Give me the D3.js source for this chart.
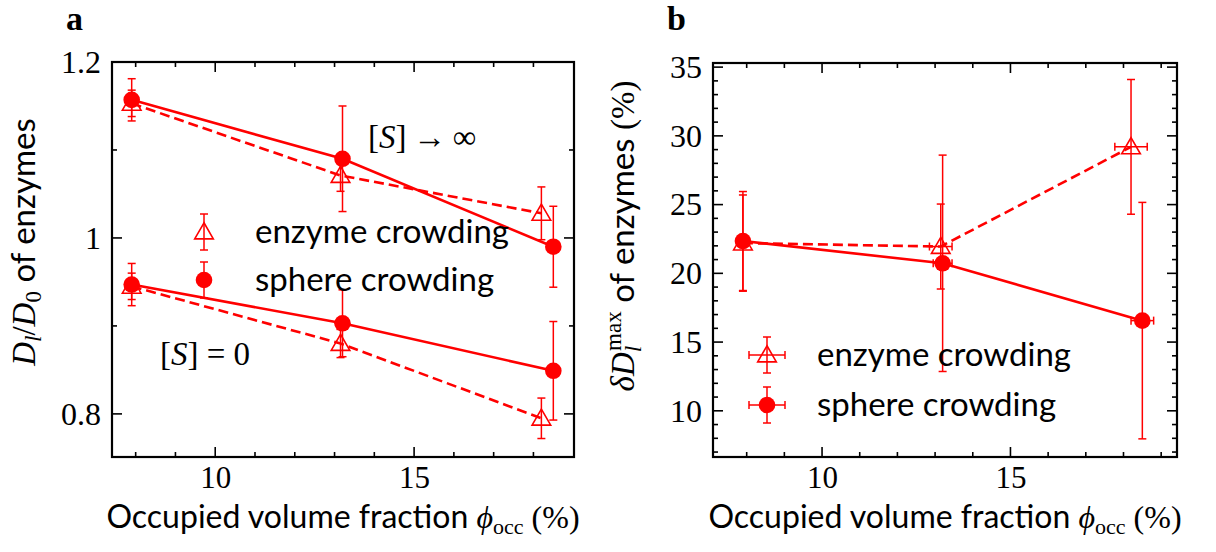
<!DOCTYPE html>
<html><head><meta charset="utf-8">
<script src="https://cdn.jsdelivr.net/npm/d3@7"></script>
<style>
body{margin:0;background:#fff;}
svg{display:block;}
.serif{font-family:"Liberation Serif","DejaVu Serif",serif;}
.sans{font-family:"Lato","DejaVu Sans",sans-serif;}
</style></head>
<body>
<svg id="chart" width="1216" height="552"></svg>
<script>
// ---------- data ----------
const phiEnzyme = [7.9, 13.15, 18.2];
const phiSphere = [7.9, 13.2, 18.5];
const phiEnzymeErr = [0.05, 0.3, 0.43];
const phiSphereErr = [0.05, 0.25, 0.3];

// panel a: D_l / D_0
const sphereS0 = [0.947, 0.903, 0.849];
const sphereS0Err = [0.024, 0.038, 0.056];
const enzymeS0 = [0.945, 0.880, 0.795];
const enzymeS0Err = [0.015, 0.016, 0.023];
const sphereSinf = [1.157, 1.090, 0.990];
const sphereSinfErr = [0.024, 0.060, 0.046];
const enzymeSinf = [1.153, 1.071, 1.028];
const enzymeSinfErr = [0.015, 0.018, 0.030];

// panel b: delta D_l^max (%)
const sphereDD = [22.35, 20.73, 16.56];
const sphereDDErr = [3.6, 7.87, 8.6];
const enzymeDD = [22.2, 21.95, 29.2];
const enzymeDDErr = [3.5, 3.09, 4.9];

const xTicksMajor = [10, 15];
const yTicksA = [0.8, 1, 1.2];
const yTickLabelsA = ["0.8", "1", "1.2"];
const yTicksB = [10, 15, 20, 25, 30, 35];

const RED = "#ff0000";
const FS = 32, FSS = 22, FT = 31;
const svg = d3.select("#chart");

function makeSeries(xs, ys, xerr, yerr){
  return xs.map((x,i)=>({x, y:ys[i], xe: xerr? xerr[i]:0, ye: yerr[i]}));
}

function drawFrame(g, x, y, w, h, xMinor, yMajor, yMinor, yFmt){
  const maj = 10, mnr = 5;
  const tk = g.append("g").attr("stroke","#000").attr("stroke-width",1.6);
  xMinor.forEach(v=>{
    const L = xTicksMajor.includes(v)? maj: mnr;
    tk.append("line").attr("x1",x(v)).attr("x2",x(v)).attr("y1",h).attr("y2",h-L);
    tk.append("line").attr("x1",x(v)).attr("x2",x(v)).attr("y1",0).attr("y2",L);
  });
  yMinor.forEach(v=>{
    const L = yMajor.some(m=>Math.abs(m-v)<1e-9)? maj: mnr;
    tk.append("line").attr("x1",0).attr("x2",L).attr("y1",y(v)).attr("y2",y(v));
    tk.append("line").attr("x1",w).attr("x2",w-L).attr("y1",y(v)).attr("y2",y(v));
  });
  g.append("rect").attr("width",w).attr("height",h).attr("fill","none").attr("stroke","#000").attr("stroke-width",2.2);
  const ax = d3.axisBottom(x).tickValues(xTicksMajor).tickSize(0).tickPadding(9).tickFormat(d3.format("d"));
  const axg = g.append("g").attr("transform",`translate(0,${h})`).call(ax);
  axg.select(".domain").remove();
  axg.selectAll("text").attr("class","serif").attr("font-size",FT).attr("fill","#000").attr("font-family",null);
  const ay = d3.axisLeft(y).tickValues(yMajor).tickSize(0).tickPadding(11).tickFormat(yFmt);
  const ayg = g.append("g").call(ay);
  ayg.select(".domain").remove();
  ayg.selectAll("text").attr("class","serif").attr("font-size",FT+1).attr("fill","#000").attr("font-family",null);
}

function drawLine(g, x, y, data, dashed){
  g.append("path").datum(data)
    .attr("d", d3.line().x(d=>x(d.x)).y(d=>y(d.y)))
    .attr("fill","none").attr("stroke",RED).attr("stroke-width",2.6)
    .attr("stroke-dasharray", dashed? "10,5": null);
}
function drawErr(g, x, y, data, horiz){
  const cap = 4;
  const e = g.append("g").attr("stroke",RED).attr("stroke-width",1.5);
  data.forEach(d=>{
    const cx = x(d.x), y1 = y(d.y+d.ye), y2 = y(d.y-d.ye);
    e.append("line").attr("x1",cx).attr("x2",cx).attr("y1",y1).attr("y2",y2);
    e.append("line").attr("x1",cx-cap).attr("x2",cx+cap).attr("y1",y1).attr("y2",y1);
    e.append("line").attr("x1",cx-cap).attr("x2",cx+cap).attr("y1",y2).attr("y2",y2);
    if(horiz && d.xe>0){
      const cy = y(d.y), x1 = x(d.x-d.xe), x2 = x(d.x+d.xe);
      e.append("line").attr("x1",x1).attr("x2",x2).attr("y1",cy).attr("y2",cy);
      e.append("line").attr("x1",x1).attr("x2",x1).attr("y1",cy-cap).attr("y2",cy+cap);
      e.append("line").attr("x1",x2).attr("x2",x2).attr("y1",cy-cap).attr("y2",cy+cap);
    }
  });
}
const triPath = d3.symbol().type(d3.symbolTriangle).size(150);
function drawTri(g, cx, cy){
  g.append("path").attr("d",triPath()).attr("transform",`translate(${cx},${cy+1.5})`)
    .attr("fill","none").attr("stroke",RED).attr("stroke-width",1.6);
}
function drawCirc(g, cx, cy){
  g.append("circle").attr("cx",cx).attr("cy",cy).attr("r",8.3).attr("fill",RED);
}
function legendEntry(g, mx, my, label, kind, horiz, tx){
  const cap=4, hv = 18, hh = 18;
  const e = g.append("g").attr("stroke",RED).attr("stroke-width",1.5);
  e.append("line").attr("x1",mx).attr("x2",mx).attr("y1",my-hv).attr("y2",my+hv);
  e.append("line").attr("x1",mx-cap).attr("x2",mx+cap).attr("y1",my-hv).attr("y2",my-hv);
  e.append("line").attr("x1",mx-cap).attr("x2",mx+cap).attr("y1",my+hv).attr("y2",my+hv);
  if(horiz){
    e.append("line").attr("x1",mx-hh).attr("x2",mx+hh).attr("y1",my).attr("y2",my);
    e.append("line").attr("x1",mx-hh).attr("x2",mx-hh).attr("y1",my-cap).attr("y2",my+cap);
    e.append("line").attr("x1",mx+hh).attr("x2",mx+hh).attr("y1",my-cap).attr("y2",my+cap);
  }
  if(kind==="tri") drawTri(g, mx, my); else drawCirc(g, mx, my);
  g.append("text").attr("class","sans").attr("x",tx).attr("y",my+11).attr("font-size",33).attr("fill","#000").text(label);
}
function xLabel(g, cx, cy){
  const t = g.append("text").attr("x",cx).attr("y",cy).attr("text-anchor","middle").attr("fill","#000").attr("font-size",FS);
  t.append("tspan").attr("class","sans").text("Occupied volume fraction ");
  t.append("tspan").attr("class","serif").attr("font-style","italic").text("ϕ");
  t.append("tspan").attr("class","serif").attr("font-size",FSS).attr("dy",6).text("occ");
  t.append("tspan").attr("class","serif").attr("dy",-6).text(" (%)");
}

// ---------- panel a ----------
const A = {left:112, top:62, w:462, h:395};
const xa = d3.scaleLinear().domain([7.405, 19.02]).range([0, A.w]);
const ya = d3.scaleLinear().domain([0.751, 1.2]).range([A.h, 0]);
const ga = svg.append("g").attr("transform",`translate(${A.left},${A.top})`);
drawFrame(ga, xa, ya, A.w, A.h, d3.range(8,19), yTicksA, [0.8,0.9,1.0,1.1,1.2], (d,i)=>yTickLabelsA[i]);

const aSets = [
  {d: makeSeries(phiEnzyme, enzymeSinf, null, enzymeSinfErr), kind:"tri"},
  {d: makeSeries(phiEnzyme, enzymeS0, null, enzymeS0Err), kind:"tri"},
  {d: makeSeries(phiSphere, sphereSinf, null, sphereSinfErr), kind:"circ"},
  {d: makeSeries(phiSphere, sphereS0, null, sphereS0Err), kind:"circ"},
];
aSets.forEach(s=>drawLine(ga, xa, ya, s.d, s.kind==="tri"));
aSets.forEach(s=>drawErr(ga, xa, ya, s.d, false));
aSets.forEach(s=>s.d.forEach(p=> s.kind==="tri"? drawTri(ga, xa(p.x), ya(p.y)) : drawCirc(ga, xa(p.x), ya(p.y))));

legendEntry(ga, 92, 170, "enzyme crowding", "tri", false, 143);
legendEntry(ga, 92, 218, "sphere crowding", "circ", false, 143);

const ann1 = ga.append("text").attr("class","serif").attr("x",256).attr("y",86).attr("font-size",33).attr("fill","#000");
ann1.append("tspan").text("[");
ann1.append("tspan").attr("font-style","italic").text("S");
ann1.append("tspan").text("]\u2009→\u2009∞");
const ann2 = ga.append("text").attr("class","serif").attr("x",48).attr("y",303).attr("font-size",33).attr("fill","#000");
ann2.append("tspan").text("[");
ann2.append("tspan").attr("font-style","italic").text("S");
ann2.append("tspan").text("] = 0");

xLabel(svg, A.left + A.w/2, 528);

const yla = svg.append("text").attr("transform","translate(35,242) rotate(-90)").attr("text-anchor","middle").attr("font-size",33).attr("fill","#000");
yla.append("tspan").attr("class","serif").attr("font-style","italic").text("D");
yla.append("tspan").attr("class","serif").attr("font-style","italic").attr("font-size",23).attr("dy",6).text("l");
yla.append("tspan").attr("class","serif").attr("dy",-6).text("/");
yla.append("tspan").attr("class","serif").attr("font-style","italic").text("D");
yla.append("tspan").attr("class","serif").attr("font-size",23).attr("dy",6).text("0");
yla.append("tspan").attr("class","sans").attr("dy",-6).text(" of enzymes");

svg.append("text").attr("class","serif").attr("x",66).attr("y",30).attr("font-size",34).attr("font-weight","bold").attr("fill","#000").text("a");

// ---------- panel b ----------
const B = {left:713, top:63, w:464, h:394};
const xb = d3.scaleLinear().domain([7.106, 19.42]).range([0, B.w]);
const yb = d3.scaleLinear().domain([6.64, 35.3]).range([B.h, 0]);
const gb = svg.append("g").attr("transform",`translate(${B.left},${B.top})`);
drawFrame(gb, xb, yb, B.w, B.h, d3.range(8,20), yTicksB, d3.range(7,36), d3.format("d"));

const bSets = [
  {d: makeSeries(phiEnzyme, enzymeDD, phiEnzymeErr, enzymeDDErr), kind:"tri"},
  {d: makeSeries(phiSphere, sphereDD, phiSphereErr, sphereDDErr), kind:"circ"},
];
bSets.forEach(s=>drawLine(gb, xb, yb, s.d, s.kind==="tri"));
bSets.forEach(s=>drawErr(gb, xb, yb, s.d, true));
bSets.forEach(s=>s.d.forEach(p=> s.kind==="tri"? drawTri(gb, xb(p.x), yb(p.y)) : drawCirc(gb, xb(p.x), yb(p.y))));

legendEntry(gb, 54, 292, "enzyme crowding", "tri", true, 104);
legendEntry(gb, 54, 342, "sphere crowding", "circ", true, 104);

xLabel(svg, B.left + B.w/2, 528);

const ylb = svg.append("text").attr("transform","translate(634,236) rotate(-90)").attr("text-anchor","middle").attr("font-size",33).attr("fill","#000");
ylb.append("tspan").attr("class","serif").attr("font-style","italic").text("δD");
ylb.append("tspan").attr("class","serif").attr("font-style","italic").attr("font-size",23).attr("dy",7).text("l");
ylb.append("tspan").attr("class","serif").attr("font-size",23).attr("dx",-5).attr("dy",-20).text("max");
ylb.append("tspan").attr("class","sans").attr("dy",13).text(" of enzymes ");
ylb.append("tspan").attr("class","serif").text("(%)");

svg.append("text").attr("class","serif").attr("x",667).attr("y",30).attr("font-size",34).attr("font-weight","bold").attr("fill","#000").text("b");
</script>
</body></html>
